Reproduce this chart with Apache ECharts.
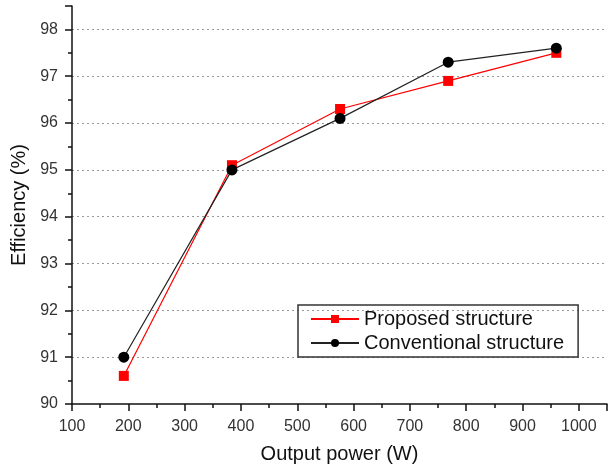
<!DOCTYPE html>
<html><head><meta charset="utf-8">
<script src="https://cdn.jsdelivr.net/npm/echarts@6/dist/echarts.min.js"></script>
<style>html,body{margin:0;padding:0;background:#fff}#c{width:614px;height:470px}</style>
</head><body><div id="c"></div>
<script>
const power = [192, 384, 576, 768, 960];
const proposed = [90.6, 95.1, 96.3, 96.9, 97.5];
const conventional = [91.0, 95.0, 96.1, 97.3, 97.6];
const seriesNames = ['Proposed structure', 'Conventional structure'];
const xTitle = 'Output power (W)';
const yTitle = 'Efficiency (%)';

const chart = echarts.init(document.getElementById('c'));
const font = 'Liberation Sans, Arial, sans-serif';
chart.setOption({
  animation: false,
  grid: {left: 72, right: 7, top: 6, bottom: 66, outerBoundsMode: 'none', containLabel: false},
  xAxis: {
    type: 'value', min: 100, max: 1050, interval: 100,
    name: xTitle, nameLocation: 'middle', nameGap: 40,
    nameTextStyle: {fontFamily: font, fontSize: 20, color: '#111'},
    axisLine: {show: true, lineStyle: {color: '#111', width: 1.5}},
    axisTick: {show: true, length: 7, lineStyle: {color: '#111', width: 1.5}},
    minorTick: {show: true, splitNumber: 2, length: 4, lineStyle: {color: '#111', width: 1.5}},
    axisLabel: {fontFamily: font, fontSize: 16, color: '#333', margin: 15,
      formatter: v => (v > 1000 ? '' : String(v))},
    splitLine: {show: false}
  },
  yAxis: {
    type: 'value', min: 90, max: 98.5, interval: 1,
    name: yTitle, nameLocation: 'middle', nameGap: 36,
    nameTextStyle: {fontFamily: font, fontSize: 20, color: '#111'},
    axisLine: {show: true, lineStyle: {color: '#111', width: 1.5}},
    axisTick: {show: true, length: 7, lineStyle: {color: '#111', width: 1.5}},
    minorTick: {show: true, splitNumber: 2, length: 4, lineStyle: {color: '#111', width: 1.5}},
    axisLabel: {fontFamily: font, fontSize: 16, color: '#333', margin: 14,
      formatter: v => (Number.isInteger(v) ? String(v) : '')},
    splitLine: {show: true, showMinLine: false, showMaxLine: false,
      lineStyle: {color: '#999', type: [2, 3], width: 1}}
  },
  legend: {
    left: 298, top: 305, orient: 'vertical',
    padding: [4, 14, 4, 12], itemGap: 4,
    borderColor: '#333', borderWidth: 1.5,
    itemWidth: 48, itemHeight: 10,
    textStyle: {fontFamily: font, fontSize: 20, color: '#111'},
    data: seriesNames
  },
  series: [
    {name: seriesNames[0], type: 'line', data: power.map((p, i) => [p, proposed[i]]),
     symbol: 'rect', symbolSize: 10, itemStyle: {color: '#ff0000'},
     lineStyle: {color: '#ff0000', width: 1.2}, z: 3},
    {name: seriesNames[1], type: 'line', data: power.map((p, i) => [p, conventional[i]]),
     symbol: 'circle', symbolSize: 11, itemStyle: {color: '#000'},
     lineStyle: {color: '#222', width: 1.2}, z: 4}
  ]
});
</script></body></html>
